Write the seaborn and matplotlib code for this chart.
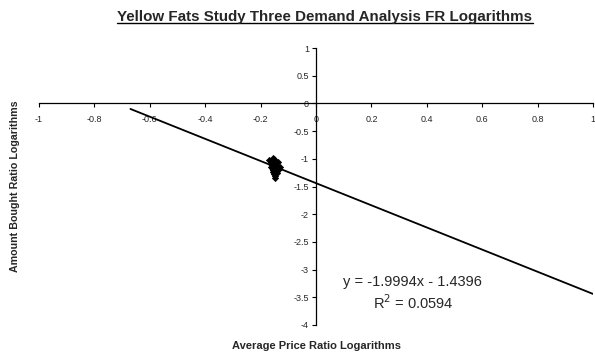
import matplotlib
matplotlib.use("Agg")
import matplotlib.pyplot as plt
import seaborn as sns
import numpy as np
import pandas as pd
from matplotlib.lines import Line2D

# Data
price_log = [-0.168, -0.162, -0.155, -0.150, -0.146, -0.158, -0.152, -0.143, -0.137, -0.164,
             -0.150, -0.156, -0.141, -0.147, -0.159, -0.152, -0.133, -0.161, -0.149, -0.154,
             -0.144, -0.151, -0.139, -0.156, -0.153, -0.142, -0.160, -0.148, -0.150, -0.130]
amount_log = [-1.02, -1.05, -0.98, -1.03, -1.08, -1.10, -1.12, -1.15, -1.06, -1.14,
              -1.18, -1.20, -1.22, -1.25, -1.16, -1.28, -1.19, -1.09, -1.31, -1.24,
              -1.11, -1.01, -1.26, -1.21, -1.13, -1.17, -1.07, -1.34, -1.23, -1.14]
slope = -1.9994
intercept = -1.4396
r_squared = 0.0594
trend_x = [-0.67, 1.0]
x_ticks = [-1, -0.8, -0.6, -0.4, -0.2, 0, 0.2, 0.4, 0.6, 0.8, 1]
y_ticks = [1, 0.5, 0, -0.5, -1, -1.5, -2, -2.5, -3, -3.5, -4]

sns.set_style("white")
plt.rcParams['font.family'] = ['Liberation Sans', 'DejaVu Sans']

fig = plt.figure(figsize=(5.95, 3.6), dpi=100)
ax = fig.add_axes([39/595, 1-325/360, (593-39)/595, (325-48)/360])

df = pd.DataFrame({"x": price_log, "y": amount_log})
sns.scatterplot(data=df, x="x", y="y", ax=ax, marker="D", color="black",
                s=10, edgecolor="black", linewidth=0.5, zorder=3)
trend_y = [slope * v + intercept for v in trend_x]
sns.lineplot(x=trend_x, y=trend_y, ax=ax, color="black", linewidth=1.3, zorder=2)

ax.set_xlim(-1, 1)
ax.set_ylim(-4, 1)
ax.spines['left'].set_position(('data', 0))
ax.spines['bottom'].set_position(('data', 0))
ax.spines['top'].set_visible(False)
ax.spines['right'].set_visible(False)
for s in ['left', 'bottom']:
    ax.spines[s].set_color('black')
    ax.spines[s].set_linewidth(0.9)
ax.set_xticks(x_ticks)
ax.set_yticks(y_ticks)
ax.set_xticklabels([f"{v:g}" for v in x_ticks])
ax.set_yticklabels([f"{v:g}" for v in y_ticks])
ax.tick_params(axis='both', direction='out', length=3, width=0.8, color='black',
               labelsize=6.5, bottom=True, left=True)
ax.tick_params(axis='x', pad=5)
ax.tick_params(axis='y', pad=2)
ax.set_xlabel("")
ax.set_ylabel("")
ax.grid(False)

ax.text(0.347, -3.23, f"y = {slope}x - {abs(intercept)}", fontsize=10.5, ha='center', va='center')
ax.text(0.352, -3.59, f"R$^2$ = {r_squared}", fontsize=10.5, ha='center', va='center')

title = fig.text(325/595, 1-17/360, "Yellow Fats Study Three Demand Analysis FR Logarithms",
                 fontsize=10.9, fontweight='bold', ha='center', va='center')
fig.text(316/595, 1-346/360, "Average Price Ratio Logarithms", fontsize=8,
         fontweight='bold', ha='center', va='center')
fig.text(15/595, 1-186/360, "Amount Bought Ratio Logarithms", fontsize=7.7,
         fontweight='bold', ha='center', va='center', rotation=90)

fig.canvas.draw()
bb = title.get_window_extent().transformed(fig.transFigure.inverted())
fig.add_artist(Line2D([bb.x0, bb.x1], [bb.y0 + 0.003, bb.y0 + 0.003],
                      transform=fig.transFigure, color='black', linewidth=1.0))

fig.savefig("out.png", dpi=100)
